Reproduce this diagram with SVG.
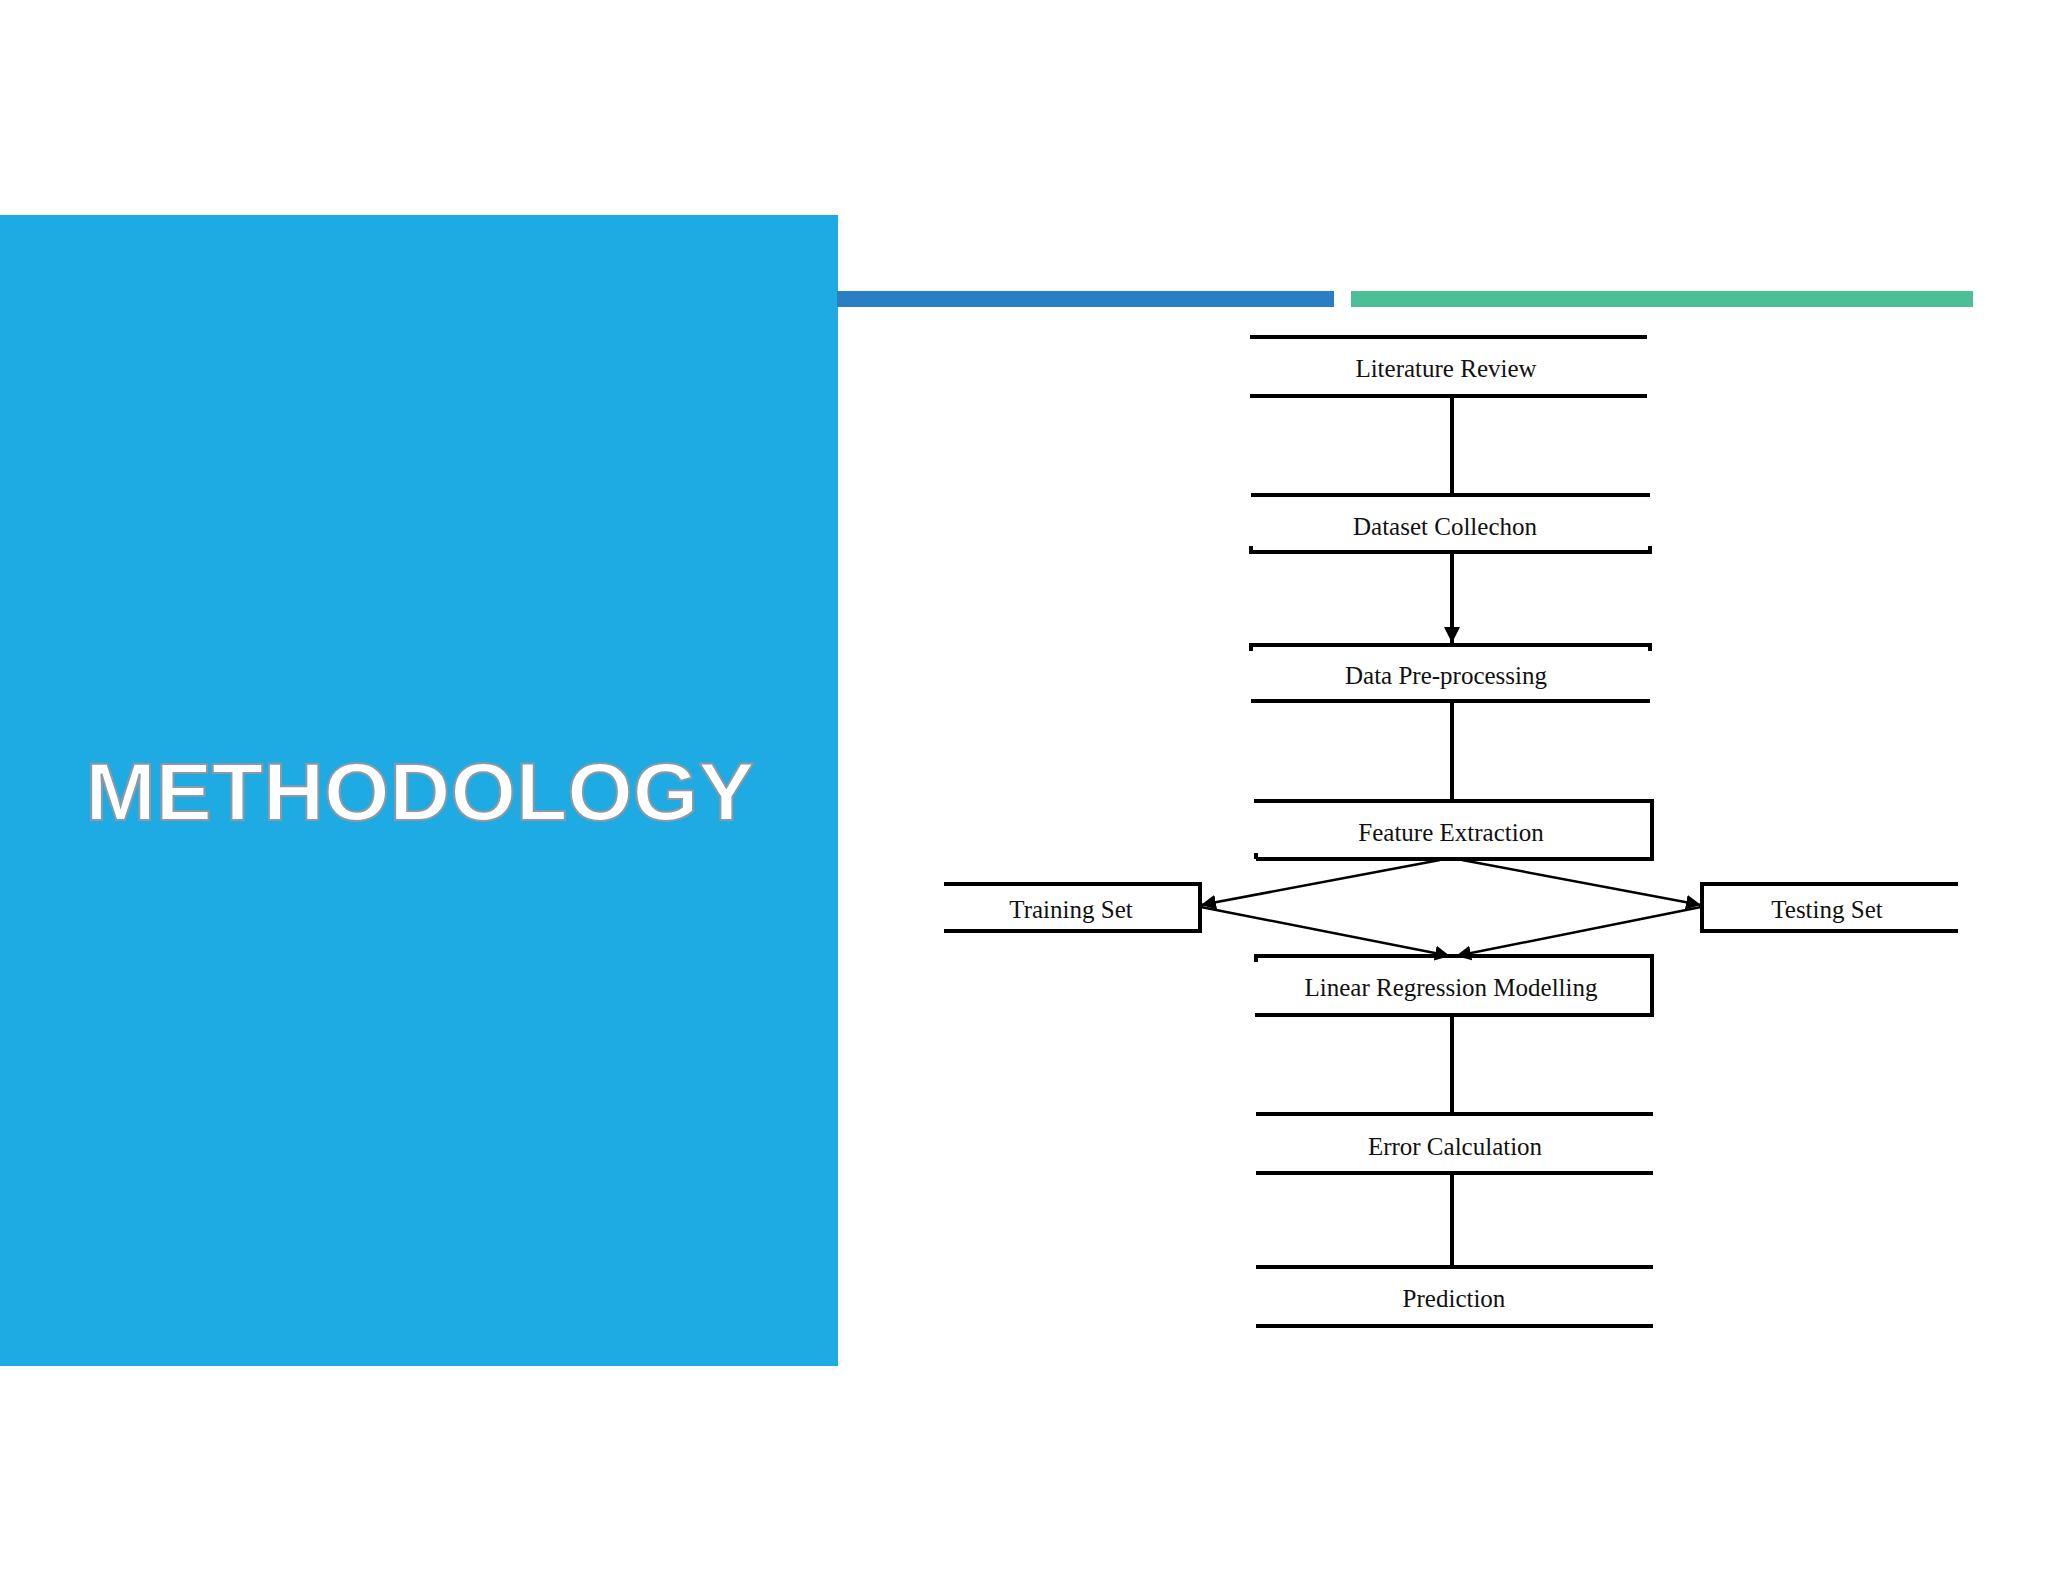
<svg xmlns="http://www.w3.org/2000/svg" width="2048" height="1582" viewBox="0 0 2048 1582">
<style>
.l{stroke:#000;stroke-width:4;fill:none}
.c{stroke:#000;stroke-width:4;fill:none}
.d{stroke:#000;stroke-width:2.5;fill:none}
text.n{font-family:"Liberation Serif",serif;font-size:25px;fill:#111;text-anchor:middle}
</style>
<defs>
<marker id="a" viewBox="0 0 10 10" refX="10" refY="5" markerWidth="4" markerHeight="4" orient="auto" markerUnits="strokeWidth"><path d="M0,0L10,5L0,10z" fill="#000"/></marker>
<marker id="b" viewBox="0 0 10 10" refX="10" refY="5" markerWidth="6" markerHeight="6" orient="auto" markerUnits="strokeWidth"><path d="M0,0L10,5L0,10z" fill="#000"/></marker>
</defs>
<rect width="2048" height="1582" fill="#fff"/>
<rect x="0" y="215" width="838" height="1151" fill="#1eaae2"/>
<rect x="837" y="291" width="497" height="16" fill="#2a7fc4"/>
<rect x="1351" y="291" width="622" height="16" fill="#4dbf96"/>
<text x="420" y="820" font-family="Liberation Sans,Arial,sans-serif" font-weight="bold" font-size="82" fill="#fff" stroke="#8a9aa3" stroke-width="2" text-anchor="middle" textLength="669" lengthAdjust="spacingAndGlyphs">METHODOLOGY</text>
<g id="connectors">
<line class="c" x1="1452" y1="396" x2="1452" y2="495"/>
<line class="c" x1="1452" y1="552" x2="1452" y2="643" marker-end="url(#a)"/>
<line class="c" x1="1452" y1="701" x2="1452" y2="801"/>
<line class="c" x1="1452" y1="1015" x2="1452" y2="1114"/>
<line class="c" x1="1452" y1="1173" x2="1452" y2="1267"/>
<line class="d" x1="1440" y1="860" x2="1201" y2="905" marker-end="url(#b)"/>
<line class="d" x1="1462" y1="860" x2="1701" y2="905" marker-end="url(#b)"/>
<line class="d" x1="1201" y1="907" x2="1450" y2="956" marker-end="url(#b)"/>
<line class="d" x1="1701" y1="907" x2="1456" y2="956" marker-end="url(#b)"/>
</g>
<g id="n1"><path class="l" d="M1250,337H1647M1250,396H1647"/><text class="n" x="1446" y="377">Literature Review</text></g>
<g id="n2"><path class="l" d="M1251,495H1650M1251,546V552H1650V546"/><text class="n" x="1445" y="535">Dataset Collechon</text></g>
<g id="n3"><path class="l" d="M1251,651V645H1650V651M1251,701H1650"/><text class="n" x="1446" y="684">Data  Pre-processing</text></g>
<g id="n4"><path class="l" d="M1254,801H1652V859H1256M1256,859V853"/><text class="n" x="1451" y="841">Feature Extraction</text></g>
<g id="n5"><path class="l" d="M944,884H1200V931H944"/><text class="n" x="1071" y="918">Training Set</text></g>
<g id="n6"><path class="l" d="M1958,884H1702V931H1958"/><text class="n" x="1827" y="918">Testing Set</text></g>
<g id="n7"><path class="l" d="M1256,962V956H1652V1015H1255"/><text class="n" x="1451" y="996">Linear Regression  Modelling</text></g>
<g id="n8"><path class="l" d="M1256,1114H1653M1256,1173H1653"/><text class="n" x="1455" y="1155">Error Calculation</text></g>
<g id="n9"><path class="l" d="M1256,1267H1653M1256,1326H1653"/><text class="n" x="1454" y="1307">Prediction</text></g>
</svg>
